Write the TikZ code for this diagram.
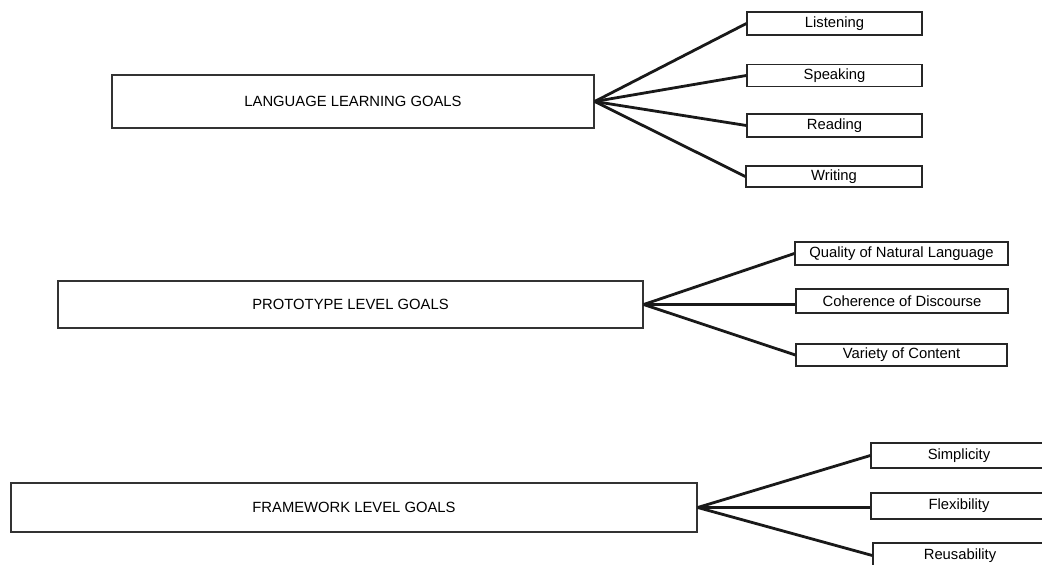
\documentclass[tikz,border=0pt]{standalone}
\usepackage{fontspec}
\setmainfont{Liberation Sans}
\begin{document}
\begin{tikzpicture}[x=1pt,y=-1pt,
  goalbox/.style={draw=black!80, line width=1.3pt, rectangle, inner sep=0pt, fill=white,
    font=\fontsize{14.8}{17}\selectfont},
  subbox/.style={draw=black!85, line width=1.3pt, rectangle, inner sep=0pt, fill=white,
    font=\fontsize{14.8}{17}\selectfont},
  link/.style={line width=2.8pt, black!90}]
\clip (0,0) rectangle (1042,565);
\fill[white] (0,0) rectangle (1042,565);

% group 1
\node[goalbox, minimum width=482pt, minimum height=53pt] (lang) at (353,101.5) {LANGUAGE LEARNING GOALS};
\node[subbox, minimum width=175pt, minimum height=23pt] (listen) at (834.5,23.5) {Listening};
\node[subbox, minimum width=175pt, minimum height=22pt] (speak) at (834.5,75.5) {Speaking};
\node[subbox, minimum width=175pt, minimum height=23pt] (read) at (834.5,125.5) {Reading};
\node[subbox, minimum width=176pt, minimum height=21pt] (write) at (834,176.5) {Writing};
\foreach \t in {listen,speak,read,write} \draw[link] (lang.east) -- (\t.west);

% group 2
\node[goalbox, minimum width=585pt, minimum height=47pt] (proto) at (350.5,304.5) {PROTOTYPE LEVEL GOALS};
\node[subbox, minimum width=213pt, minimum height=23pt] (qual) at (901.5,253.5) {Quality of Natural Language};
\node[subbox, minimum width=212pt, minimum height=24pt] (coh) at (902,301) {Coherence of Discourse};
\node[subbox, minimum width=211pt, minimum height=22pt] (var) at (901.5,355) {Variety of Content};
\draw[link] (proto.east) -- (qual.west);
\draw[link] (proto.east) -- (proto.east -| coh.west);
\draw[link] (proto.east) -- (var.west);

% group 3
\node[goalbox, minimum width=686pt, minimum height=49pt] (frame) at (354,507.5) {FRAMEWORK LEVEL GOALS};
\node[subbox, minimum width=176pt, minimum height=25pt] (simp) at (959,455.5) {Simplicity};
\node[subbox, minimum width=176pt, minimum height=26pt] (flex) at (959,506) {Flexibility};
\node[subbox, minimum width=174pt, minimum height=25pt] (reus) at (960,555.5) {Reusability};
\draw[link] (frame.east) -- (simp.west);
\draw[link] (frame.east) -- (frame.east -| flex.west);
\draw[link] (frame.east) -- (reus.west);
\end{tikzpicture}
\end{document}
